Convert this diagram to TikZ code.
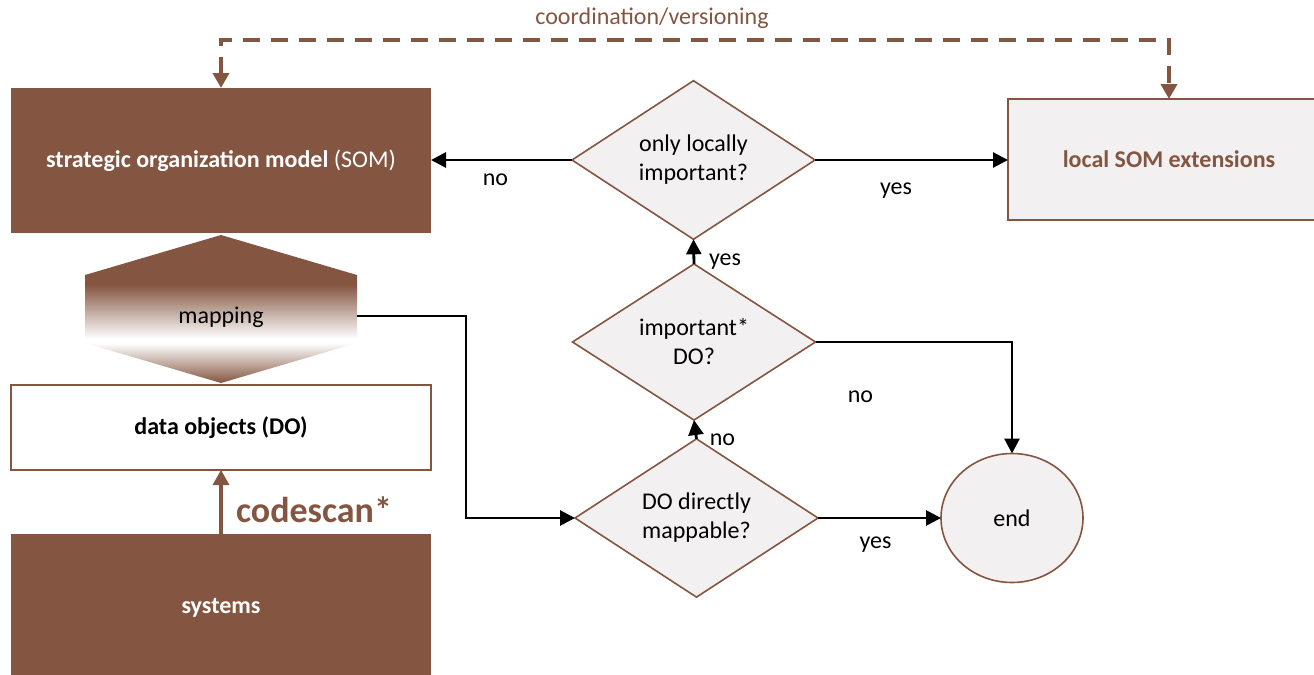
\documentclass[tikz,border=0pt]{standalone}
\usepackage{fontspec}
\setmainfont{Carlito}
\usetikzlibrary{shapes.geometric,arrows.meta}
\definecolor{somb}{HTML}{845641}
\definecolor{pale}{HTML}{F2F0F0}
% brown at the top of the mapping block, fading to white towards its lower edge
\pgfdeclareverticalshading{mapupper}{100bp}{color(0bp)=(white); color(27bp)=(white); color(52bp)=(somb); color(100bp)=(somb)}

\begin{document}
\begin{tikzpicture}[x=0.5pt,y=-0.5pt,
  font=\fontsize{12}{14.5}\selectfont,
  every node/.style={inner sep=0pt, outer sep=0pt},
  lightbox/.style={rectangle, draw=somb, line width=0.8pt},
  darkbox/.style={rectangle, fill=somb, text=white, font=\fontsize{12}{14.5}\selectfont\bfseries},
  decision/.style={diamond, draw=somb, fill=pale, line width=0.8pt,
    minimum width=121.5pt, minimum height=69.5pt, align=center},
  flow/.style={draw=black, line width=1.4pt, -{Triangle[length=7.5pt,width=7.5pt]}},
  sync/.style={draw=somb, line width=2pt, dash pattern=on 8.5pt off 5.5pt,
    {Triangle[length=7.5pt,width=8pt]}-{Triangle[length=7.5pt,width=8pt]}},
  scan/.style={draw=somb, line width=1.6pt, -{Triangle[length=7.5pt,width=8pt]}},
  lbl/.style={text=black}
]
\useasboundingbox (0,0) rectangle (1314,675);

% left column
\node[darkbox, minimum width=210pt, minimum height=72.5pt, text height=9pt] (som) at (221,160.5)
  {strategic organization model \mdseries(SOM)};
\node[lightbox, fill=white, minimum width=210pt, minimum height=42.5pt, text height=9pt] (do) at (221,427.5)
  {\bfseries data objects (DO)};
\node[darkbox, minimum width=210pt, minimum height=74pt] (sys) at (221,608)
  {systems};

% mapping block between the SOM and the data objects
\path[shading=mapupper] (221,235) -- (357,275) -- (357,343) -- (85,343) -- (85,275) -- cycle;
\path[top color=white, bottom color=somb] (85,343) -- (357,343) -- (221,383) -- cycle;
\node (map) at (221,317) {mapping};
\coordinate (mapE) at (357,316);

% decision chain
\node[decision] (d1) at (693.5,160) {only locally\\important?};
\node[decision] (d2) at (694,342) {important*\\DO?};
\node[decision] (d3) at (696.5,518) {DO directly\\mappable?};
\node[ellipse, draw=somb, fill=pale, line width=0.8pt, minimum width=71pt, minimum height=64.5pt] (end) at (1012,518) {end};
\node[lightbox, fill=pale, minimum width=161pt, minimum height=60.5pt] (loc) at (1169,159.5)
  {\bfseries\color{somb}local SOM extensions};

% coordination link across the top
\coordinate (tl) at (221,40);
\coordinate (tr) at (1169,40);
\draw[sync] (som.north) -- (tl) -- (tr) -- (loc.north);
\node[text=somb] (coord) at (652,18) {coordination/versioning};

% codescan
\draw[scan] (sys.north) -- (do.south);
\node[text=somb, font=\fontsize{18}{20}\selectfont\bfseries, anchor=west] (cs) at (236,510) {codescan*};

% flow connectors
\draw[flow] (mapE) -- ++(109,0) |- (d3.west);
\draw[flow] (d3.north) -- (d2.south);
\draw[flow] (d2.north) -- (d1.south);
\draw[flow] (d1.west) -- (som.east |- d1.west);
\draw[flow] (d1.east) -- (loc.west |- d1.east);
\draw[flow] (d3.east) -- (end.west);
\draw[flow] (d2.east) -| (end.north);

% connector labels
\node[lbl] (l1) at (495.5,180) {no};
\node[lbl] (l2) at (896,191) {yes};
\node[lbl] (l3) at (725,262) {yes};
\node[lbl] (l4) at (860.5,397) {no};
\node[lbl] (l5) at (722.5,440) {no};
\node[lbl] (l6) at (875.5,545) {yes};
\end{tikzpicture}
\end{document}
